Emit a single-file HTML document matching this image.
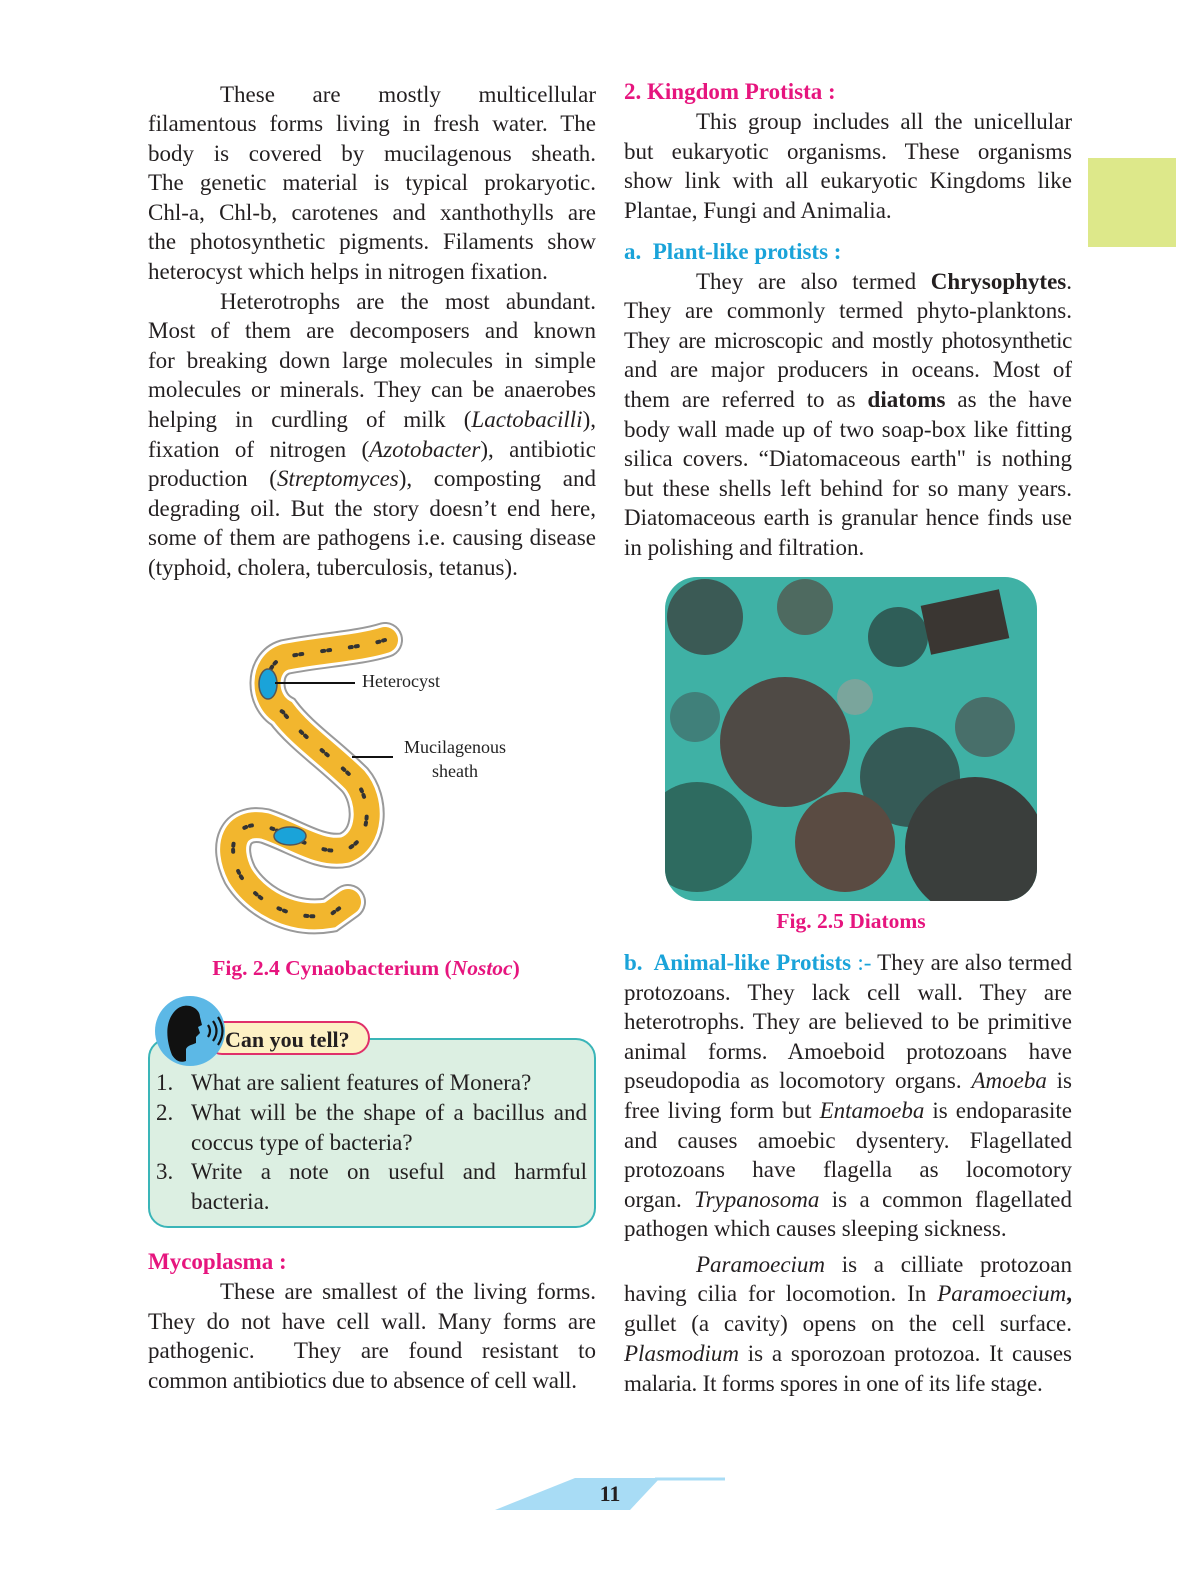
<!DOCTYPE html>
<html><head><meta charset="utf-8">
<style>
body{margin:0;width:1191px;height:1588px;background:#fff;position:relative;overflow:hidden;font-family:"Liberation Serif",serif;color:#231f20}
.l{position:absolute;height:30px;line-height:30px;font-size:23px;white-space:nowrap}
.L{left:148px;width:448px}
.R{left:624px;width:448px}
.j{text-align:justify;text-align-last:justify;white-space:normal}
.in{padding-left:72px;box-sizing:border-box}
.mag{color:#e6157e;font-weight:bold}
.cy{color:#1aa3d9;font-weight:bold}
</style></head><body>
<div style="position:absolute;left:1088px;top:158px;width:88px;height:89px;background:#dde88a"></div>

<div>
<div class="l L j in" style="top:80px">These are mostly multicellular</div>
<div class="l L j" style="top:109px">filamentous forms living in fresh water. The</div>
<div class="l L j" style="top:139px">body is covered by mucilagenous sheath.</div>
<div class="l L j" style="top:168px">The genetic material is typical prokaryotic.</div>
<div class="l L j" style="top:198px">Chl-a, Chl-b, carotenes and xanthothylls are</div>
<div class="l L j" style="top:227px">the photosynthetic pigments. Filaments show</div>
<div class="l L" style="top:257px">heterocyst which helps in nitrogen fixation.</div>
<div class="l L j in" style="top:287px">Heterotrophs are the most abundant.</div>
<div class="l L j" style="top:316px">Most of them are decomposers and known</div>
<div class="l L j" style="top:346px">for breaking down large molecules in simple</div>
<div class="l L j" style="top:375px">molecules or minerals. They can be anaerobes</div>
<div class="l L j" style="top:405px">helping in curdling of milk (<i>Lactobacilli</i>),</div>
<div class="l L j" style="top:435px">fixation of nitrogen (<i>Azotobacter</i>), antibiotic</div>
<div class="l L j" style="top:464px">production (<i>Streptomyces</i>), composting and</div>
<div class="l L j" style="top:494px">degrading oil. But the story doesn’t end here,</div>
<div class="l L j" style="top:523px">some of them are pathogens i.e. causing disease</div>
<div class="l L" style="top:553px">(typhoid, cholera, tuberculosis, tetanus).</div>
</div>

<svg style="position:absolute;left:0;top:0" width="600" height="960">
<path d="M385,640 C360,648 320,650 285,657 C262,664 262,700 283,712 C300,735 330,755 355,780 C372,800 372,840 345,850 C320,855 295,836 265,826 C235,820 225,845 240,875 C255,900 290,922 330,915 L348,902" fill="none" stroke="#9a9a9a" stroke-width="36" stroke-linecap="round"/>
<path d="M385,640 C360,648 320,650 285,657 C262,664 262,700 283,712 C300,735 330,755 355,780 C372,800 372,840 345,850 C320,855 295,836 265,826 C235,820 225,845 240,875 C255,900 290,922 330,915 L348,902" fill="none" stroke="#fff" stroke-width="32" stroke-linecap="round"/>
<path d="M385,640 C360,648 320,650 285,657 C262,664 262,700 283,712 C300,735 330,755 355,780 C372,800 372,840 345,850 C320,855 295,836 265,826 C235,820 225,845 240,875 C255,900 290,922 330,915 L348,902" fill="none" stroke="#f2b62e" stroke-width="26" stroke-linecap="round"/>
<path d="M385,640 C360,648 320,650 285,657 C262,664 262,700 283,712 C300,735 330,755 355,780 C372,800 372,840 345,850 C320,855 295,836 265,826 C235,820 225,845 240,875 C255,900 290,922 330,915 L348,902" fill="none" stroke="#333" stroke-width="4" stroke-dasharray="2 4 2 20" stroke-linecap="round"/>
<ellipse cx="268" cy="684" rx="9" ry="15" fill="#1aa3d9" stroke="#555" stroke-width="1.5"/>
<ellipse cx="290" cy="836" rx="16" ry="9" fill="#1aa3d9" stroke="#555" stroke-width="1.5"/>
<line x1="275" y1="683" x2="355" y2="683" stroke="#111" stroke-width="2"/>
<line x1="352" y1="757" x2="393" y2="757" stroke="#111" stroke-width="2"/>
<text x="362" y="683" font-family="Liberation Serif" font-size="18" fill="#222" dominant-baseline="middle">Heterocyst</text>
<text x="455" y="749" font-family="Liberation Serif" font-size="18" fill="#222" text-anchor="middle" dominant-baseline="middle">Mucilagenous</text>
<text x="455" y="773" font-family="Liberation Serif" font-size="18" fill="#222" text-anchor="middle" dominant-baseline="middle">sheath</text>
</svg>
<div class="l mag" style="top:953px;left:148px;width:436px;text-align:center;font-size:21.5px">Fig. 2.4 Cynaobacterium (<i>Nostoc</i>)</div>

<div style="position:absolute;left:148px;top:1038px;width:444px;height:186px;background:#dcefe2;border:2px solid #3ab5b8;border-radius:20px"></div>
<div style="position:absolute;left:205px;top:1021px;width:165px;height:34px;background:#fdf1c4;border:2px solid #e0306a;border-radius:18px;font-weight:bold;font-size:22px;line-height:34px;padding-left:18px;box-sizing:border-box">Can you tell?</div>
<svg style="position:absolute;left:152px;top:995px" width="80" height="75">
<circle cx="38" cy="36" r="35" fill="#5cb8e6"/>
<path d="M20,60 C14,45 12,25 25,14 C36,6 48,14 48,22 L50,30 L46,32 L48,38 L44,42 L44,48 C40,50 36,50 34,54 L34,66 C28,68 24,66 20,60Z" fill="#111"/>
<path d="M56,30 q4,6 0,12 M61,26 q7,10 0,20 M66,22 q9,14 0,28" fill="none" stroke="#111" stroke-width="2.2"/>
</svg>
<div class="l" style="top:1068px;left:156px">1.</div>
<div class="l" style="top:1068px;left:191px">What are salient features of Monera?</div>
<div class="l" style="top:1098px;left:156px">2.</div>
<div class="l j" style="top:1098px;left:191px;width:396px">What will be the shape of a bacillus and</div>
<div class="l" style="top:1128px;left:191px">coccus type of bacteria?</div>
<div class="l" style="top:1157px;left:156px">3.</div>
<div class="l j" style="top:1157px;left:191px;width:396px">Write a note on useful and harmful</div>
<div class="l" style="top:1187px;left:191px">bacteria.</div>

<div class="l L mag" style="top:1247px">Mycoplasma :</div>
<div class="l L j in" style="top:1277px">These are smallest of the living forms.</div>
<div class="l L j" style="top:1307px">They do not have cell wall. Many forms are</div>
<div class="l L j" style="top:1336px">pathogenic. &nbsp;They are found resistant to</div>
<div class="l L" style="top:1366px;letter-spacing:-0.2px">common antibiotics due to absence of cell wall.</div>

<div>
<div class="l R mag" style="top:77px">2. Kingdom Protista :</div>
<div class="l R j in" style="top:107px">This group includes all the unicellular</div>
<div class="l R j" style="top:137px">but eukaryotic organisms. These organisms</div>
<div class="l R j" style="top:166px">show link with all eukaryotic Kingdoms like</div>
<div class="l R" style="top:196px">Plantae, Fungi and Animalia.</div>
<div class="l R cy" style="top:237px">a.&nbsp; Plant-like protists :</div>
<div class="l R j in" style="top:267px">They are also termed <b>Chrysophytes</b>.</div>
<div class="l R j" style="top:296px">They are commonly termed phyto-planktons.</div>
<div class="l R" style="top:326px;letter-spacing:-0.35px;word-spacing:-2px;text-align:justify;text-align-last:justify">They are microscopic and mostly photosynthetic</div>
<div class="l R j" style="top:355px">and are major producers in oceans. Most of</div>
<div class="l R j" style="top:385px">them are referred to as <b>diatoms</b> as the have</div>
<div class="l R j" style="top:415px">body wall made up of two soap-box like fitting</div>
<div class="l R j" style="top:444px">silica covers. “Diatomaceous earth" is nothing</div>
<div class="l R j" style="top:474px">but these shells left behind for so many years.</div>
<div class="l R j" style="top:503px">Diatomaceous earth is granular hence finds use</div>
<div class="l R" style="top:533px">in polishing and filtration.</div>
</div>

<svg style="position:absolute;left:665px;top:577px" width="372" height="324">
<defs><clipPath id="c"><rect width="372" height="324" rx="32"/></clipPath></defs>
<g clip-path="url(#c)">
<rect width="372" height="324" fill="#3fb1a5"/>
<circle cx="40" cy="40" r="38" fill="#3b5a55"/>
<circle cx="140" cy="30" r="28" fill="#4e6a60"/>
<circle cx="120" cy="165" r="65" fill="#4f4a45"/>
<circle cx="233" cy="60" r="30" fill="#2f5e58"/>
<circle cx="245" cy="200" r="50" fill="#355a56"/>
<circle cx="320" cy="150" r="30" fill="#486f6a"/>
<circle cx="310" cy="270" r="70" fill="#3a3e3c"/>
<circle cx="32" cy="260" r="55" fill="#2e6b60"/>
<circle cx="180" cy="265" r="50" fill="#5a4b42"/>
<circle cx="190" cy="120" r="18" fill="#7aa59c"/>
<rect x="260" y="20" width="80" height="50" fill="#3a3632" transform="rotate(-12 300 45)"/>
<circle cx="30" cy="140" r="25" fill="#40807a"/>
</g></svg>
<div class="l mag" style="top:906px;left:665px;width:372px;text-align:center;font-size:21.5px">Fig. 2.5 Diatoms</div>

<div class="l R j" style="top:948px"><span class="cy">b.&nbsp; Animal-like Protists</span> <span style="color:#1aa3d9">:-</span> They are also termed</div>
<div class="l R j" style="top:978px">protozoans. They lack cell wall. They are</div>
<div class="l R j" style="top:1007px">heterotrophs. They are believed to be primitive</div>
<div class="l R j" style="top:1037px">animal forms. Amoeboid protozoans have</div>
<div class="l R j" style="top:1066px">pseudopodia as locomotory organs. <i>Amoeba</i> is</div>
<div class="l R j" style="top:1096px">free living form but <i>Entamoeba</i> is endoparasite</div>
<div class="l R j" style="top:1126px">and causes amoebic dysentery. Flagellated</div>
<div class="l R j" style="top:1155px">protozoans have flagella as locomotory</div>
<div class="l R j" style="top:1185px">organ. <i>Trypanosoma</i> is a common flagellated</div>
<div class="l R" style="top:1214px">pathogen which causes sleeping sickness.</div>
<div class="l R j in" style="top:1250px"><i>Paramoecium</i> is a cilliate protozoan</div>
<div class="l R j" style="top:1279px">having cilia for locomotion. In <i>Paramoecium</i><b>,</b></div>
<div class="l R j" style="top:1309px">gullet (a cavity) opens on the cell surface.</div>
<div class="l R j" style="top:1339px"><i>Plasmodium</i> is a sporozoan protozoa. It causes</div>
<div class="l R" style="top:1369px;letter-spacing:-0.2px">malaria. It forms spores in one of its life stage.</div>

<svg style="position:absolute;left:480px;top:1470px" width="260" height="45">
<polygon points="95,8 180,8 150,40 15,40" fill="#a8dcf5"/>
<line x1="175" y1="9" x2="245" y2="9" stroke="#a8dcf5" stroke-width="3"/>
</svg>
<div style="position:absolute;left:580px;top:1480px;width:60px;text-align:center;font-size:22px;font-weight:bold;line-height:28px">11</div>
</body></html>
